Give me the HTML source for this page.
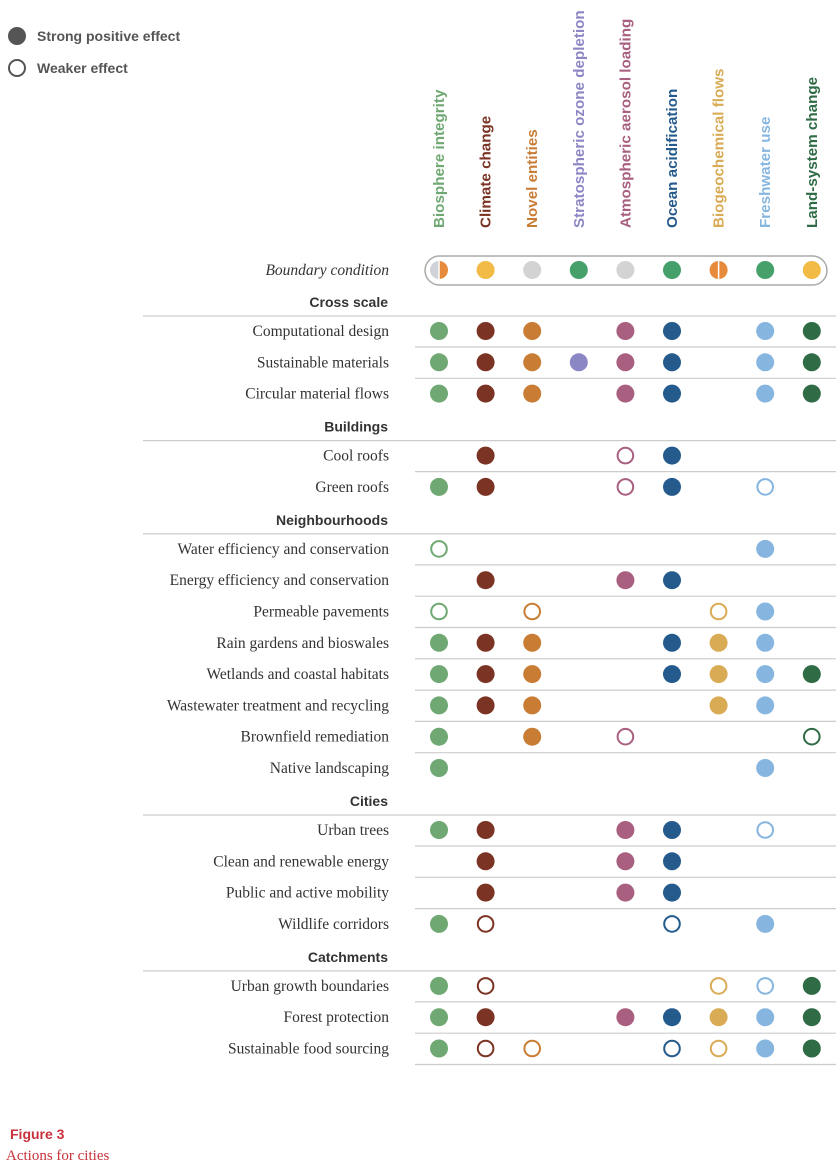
<!DOCTYPE html>
<html><head><meta charset="utf-8"><style>
body{margin:0;background:#fff;}
svg{display:block;}
.lab{font-family:"Liberation Serif",serif;font-size:15.5px;fill:#333;}
.sec{font-family:"Liberation Sans",sans-serif;font-size:14px;font-weight:bold;fill:#333;}
.hdr{font-family:"Liberation Sans",sans-serif;font-size:15.2px;font-weight:bold;}
</style></head><body>
<svg id="chart" width="840" height="1174" xmlns="http://www.w3.org/2000/svg">
<g>
<circle cx="17" cy="36" r="9" fill="#555"/>
<text x="37" y="41" class="sec" style="fill:#555">Strong positive effect</text>
<circle cx="17" cy="68" r="8" fill="none" stroke="#555" stroke-width="2"/>
<text x="37" y="73" class="sec" style="fill:#555">Weaker effect</text>
</g>
<g>
<text x="389" y="275" class="lab" text-anchor="end" font-style="italic">Boundary condition</text>
<rect x="425" y="256" width="402" height="29" rx="14.5" fill="none" stroke="#aaa" stroke-width="1.5"/>
</g>
<text x="10" y="1139" font-family="Liberation Sans,sans-serif" font-weight="bold" font-size="14" fill="#c8323c">Figure 3</text>
<text x="6" y="1160" font-family="Liberation Serif,serif" font-size="15" fill="#c8323c">Actions for cities</text>
</svg>
<script>
const columns=["Biosphere integrity","Climate change","Novel entities","Stratospheric ozone depletion","Atmospheric aerosol loading","Ocean acidification","Biogeochemical flows","Freshwater use","Land-system change"];
const colColors=["#6fa872","#7b3323","#c97d34","#8b86c4","#a85f80","#245b8c","#d9ab55","#86b6e0","#2f6b45"];
const boundary=["split-gray-orange","#f2bb45","#d3d3d3","#45a06a","#d3d3d3","#45a06a","split-orange","#45a06a","#f2bb45"];
const sections=["Cross scale","Buildings","Neighbourhoods","Cities","Catchments"];
const rowSection=[0,0,0,1,1,2,2,2,2,2,2,2,2,3,3,3,3,4,4,4];
const rowLabels=["Computational design","Sustainable materials","Circular material flows","Cool roofs","Green roofs","Water efficiency and conservation","Energy efficiency and conservation","Permeable pavements","Rain gardens and bioswales","Wetlands and coastal habitats","Wastewater treatment and recycling","Brownfield remediation","Native landscaping","Urban trees","Clean and renewable energy","Public and active mobility","Wildlife corridors","Urban growth boundaries","Forest protection","Sustainable food sourcing"];
const effects=["SSS.SS.SS","SSSSSS.SS","SSS.SS.SS",".S..WS...","SS..WS.W.","W......S.",".S..SS...","W.W...WS.","SSS..SSS.","SSS..SSSS","SSS...SS.","S.S.W...W","S......S.","SS..SS.W.",".S..SS...",".S..SS...","SW...W.S.","SW....WWS","SS..SSSSS","SWW..WWSS"];

const NS="http://www.w3.org/2000/svg";
const svg=document.getElementById('chart');
function xCol(i){return 439+i*46.6;}
function mk(tag,attrs){const e=document.createElementNS(NS,tag);for(const k in attrs)e.setAttribute(k,attrs[k]);svg.appendChild(e);return e;}
columns.forEach((c,i)=>{
  const t=mk('text',{x:0,y:0,class:'hdr',fill:colColors[i],transform:`translate(${xCol(i)+5},228) rotate(-90)`});
  
  
  t.textContent=c;
});
boundary.forEach((b,i)=>{
  const cx=xCol(i),cy=270,r=9;
  if(b.startsWith('split')){
    const left=b==='split-orange'?'#e68a3b':'#cfd3d8';
    const g=mk('g',{});
    
    
    const p1=document.createElementNS(NS,'path');p1.setAttribute('d',`M${cx},${cy-r} A${r},${r} 0 0 0 ${cx},${cy+r} Z`);p1.setAttribute('fill',left);g.appendChild(p1);
    const p2=document.createElementNS(NS,'path');p2.setAttribute('d',`M${cx},${cy-r} A${r},${r} 0 0 1 ${cx},${cy+r} Z`);p2.setAttribute('fill','#e68a3b');g.appendChild(p2);
    const l=document.createElementNS(NS,'line');l.setAttribute('x1',cx);l.setAttribute('x2',cx);l.setAttribute('y1',cy-r);l.setAttribute('y2',cy+r);l.setAttribute('stroke','#fff');l.setAttribute('stroke-width','1.5');g.appendChild(l);
  } else {
    const c=mk('circle',{cx:cx,cy:cy,r:r,fill:b});
    
    
  }
});
let y=269, prevSec=-1;
rowLabels.forEach((lab,ri)=>{
  const s=rowSection[ri];
  if(s!==prevSec){
    const hy=y+33;
    const st=mk('text',{x:388,y:hy+5,class:'sec','text-anchor':'end'});
    
    
    st.textContent=sections[s];
    const ln=mk('line',{x1:143,x2:836,y1:hy+14,y2:hy+14,stroke:'#ccc','stroke-width':1.2});
    
    
    y=hy+29; prevSec=s;
  } else y+=31.3;
  const t=mk('text',{x:389,y:y+5,class:'lab','text-anchor':'end'});
  
  
  t.textContent=lab;
  const nextSame=ri+1<rowLabels.length && rowSection[ri+1]===s;
  if(nextSame||ri===rowLabels.length-1){
    const ln=mk('line',{x1:415,x2:836,y1:y+16,y2:y+16,stroke:'#ccc','stroke-width':1.2});
    
    
  }
  effects[ri].split('').forEach((e,ci)=>{
    if(e==='S'){
      const c=mk('circle',{cx:xCol(ci),cy:y,r:9,fill:colColors[ci]});
      
      
    } else if(e==='W'){
      const c=mk('circle',{cx:xCol(ci),cy:y,r:7.8,fill:'none',stroke:colColors[ci],'stroke-width':2});
      
      
    }
  });
});
</script>
</body></html>
